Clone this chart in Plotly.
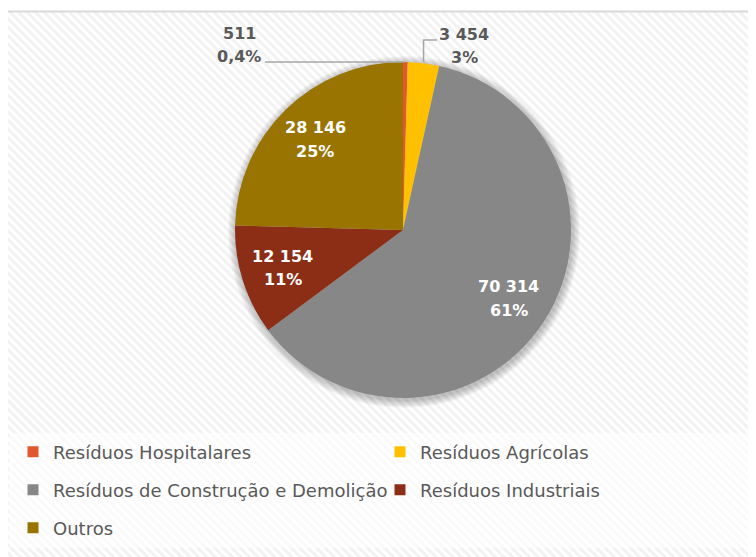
import math
import base64
import plotly.graph_objects as go

categories = ["Resíduos Hospitalares", "Resíduos Agrícolas",
              "Resíduos de Construção e Demolição", "Resíduos Industriais", "Outros"]
values = [511, 3454, 70314, 12154, 28146]
colors = ["#E2572B", "#FFC000", "#878787", "#8B2E15", "#9A7400"]

OFF = 8                      # page offset of the plot div (body margin)
W, H = 756 - OFF, 557 - OFF
CX, CY, R = 403, 230, 168    # pie centre / radius in page px
FONT = "DejaVu Sans"
TXT = "#595959"
LINE_GAP = 23.5              # spacing between the two lines of a data label


def px(x):
    return (x - OFF) / W


def py(y):
    return 1 - (y - OFF) / H


def fmt_int(v):
    return f"{v:,}".replace(",", " ")


def fmt_pct(p):
    if p < 1:
        return f"{p:.1f}%".replace(".", ",")
    return f"{p:.0f}%"


total = sum(values)
pcts = [v / total * 100 for v in values]

fig = go.Figure()

# background pattern (diagonal stripes) + lighter legend band
svg = (f"<svg xmlns='http://www.w3.org/2000/svg' width='{W}' height='{H}'>"
       "<defs><pattern id='p' width='6' height='6' patternUnits='userSpaceOnUse' "
       "patternTransform='rotate(45)'><rect width='6' height='6' fill='#ffffff'/>"
       "<rect width='6' height='3' fill='#f2f2f2'/></pattern></defs>"
       f"<rect x='{7 - OFF}' y='{12 - OFF}' width='800' height='600' fill='url(#p)'/>"
       f"<rect x='{9 - OFF}' y='{433 - OFF}' width='800' height='115' fill='#ffffff' fill-opacity='0.6'/>"
       "</svg>")
src = "data:image/svg+xml;base64," + base64.b64encode(svg.encode()).decode()
fig.add_layout_image(source=src, xref="paper", yref="paper", x=0, y=1,
                     sizex=1, sizey=1, xanchor="left", yanchor="top",
                     sizing="stretch", layer="below")

fig.add_trace(go.Pie(
    labels=categories, values=values, sort=False, direction="clockwise",
    rotation=0, marker=dict(colors=colors, line=dict(width=0)),
    textinfo="none", hoverinfo="label+value+percent", showlegend=False,
    domain=dict(x=[px(CX - R), px(CX + R)], y=[py(CY + R), py(CY - R)]),
))

# soft shadow behind pie
for i in range(8):
    rr = R + 1 + i
    fig.add_shape(type="circle", xref="paper", yref="paper", layer="below",
                  x0=px(CX + 1 - rr), x1=px(CX + 1 + rr),
                  y0=py(CY + 2 + rr), y1=py(CY + 2 - rr),
                  fillcolor="rgba(0,0,0,0.03)", line=dict(width=0))

# border (top & left)
fig.add_shape(type="line", xref="paper", yref="paper", x0=px(6.5), x1=1.01,
              y0=py(11.5), y1=py(11.5), line=dict(color="#d9d9d9", width=2))
fig.add_shape(type="line", xref="paper", yref="paper", x0=px(6.5), x1=px(6.5),
              y0=py(11.5), y1=-0.01, line=dict(color="#d9d9d9", width=2))


def add_label(x, y, lines, color):
    n = len(lines)
    for k, ln in enumerate(lines):
        yy = y + (k - (n - 1) / 2) * LINE_GAP
        fig.add_annotation(x=px(x), y=py(yy), xref="paper", yref="paper",
                           xanchor="center", yanchor="middle",
                           text=f"<b>{ln}</b>", showarrow=False,
                           font=dict(family=FONT, size=16, color=color))


# data labels
cum = 0
for i, v in enumerate(values):
    a0 = cum / total * 360
    cum += v
    a1 = cum / total * 360
    mid = math.radians((a0 + a1) / 2)
    lines = [fmt_int(v), fmt_pct(pcts[i])]
    if pcts[i] > 5:
        f = 0.75
        x = CX + f * R * math.sin(mid)
        y = CY - f * R * math.cos(mid)
        add_label(x, y, lines, "white")
    else:
        ex = CX + R * math.sin(mid)
        ey = CY - R * math.cos(mid)
        if i == 0:
            tx, ty = 239, 45
            fig.add_shape(type="line", xref="paper", yref="paper",
                          x0=px(265), x1=px(ex), y0=py(ey), y1=py(ey),
                          line=dict(color="#a6a6a6", width=1.5))
        else:
            tx, ty = 464, 46
            fig.add_shape(type="path", xref="paper", yref="paper",
                          path=f"M {px(ex)} {py(ey - 1)} L {px(ex)} {py(40)} L {px(437)} {py(40)}",
                          line=dict(color="#a6a6a6", width=1.5))
        add_label(tx, ty, lines, TXT)

# legends: one legend per entry, laid out as 3 rows x 2 columns
col_x = [33, 400]          # swatch centres (page px)
row_y = [452, 490, 528]
for i, name in enumerate(categories):
    lname = "legend" if i == 0 else f"legend{i + 1}"
    fig.add_trace(go.Scatter(
        x=[None], y=[None], mode="markers", name=name,
        marker=dict(symbol="square", size=11, color=colors[i]),
        legend=lname, showlegend=True, hoverinfo="skip"))
    fig.update_layout({lname: dict(
        orientation="h", x=(col_x[i % 2] - 20 - OFF) / W, xanchor="left",
        y=py(row_y[i // 2]), yanchor="middle",
        bgcolor="rgba(0,0,0,0)", itemsizing="trace",
        font=dict(family=FONT, size=18, color=TXT))})

fig.update_layout(
    width=W, height=H, margin=dict(l=0, r=0, t=0, b=0),
    paper_bgcolor="white", plot_bgcolor="rgba(0,0,0,0)",
    xaxis=dict(visible=False), yaxis=dict(visible=False),
    separators=", ",
)

fig.write_html("out.html")
